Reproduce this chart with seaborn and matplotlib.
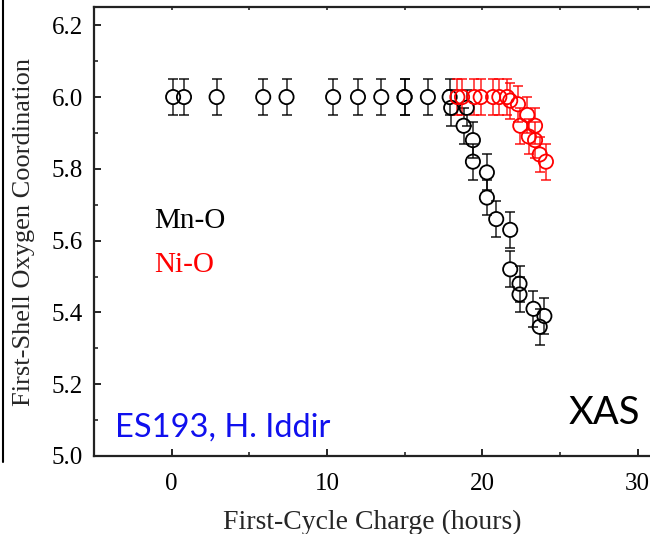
import matplotlib
matplotlib.use("Agg")
import matplotlib.pyplot as plt
from matplotlib.lines import Line2D
from matplotlib.ticker import MultipleLocator
import seaborn as sns
import pandas as pd
import numpy as np

# ---- data ----
mn_x = [0.1, 0.8, 2.9, 5.9, 7.4, 10.4, 12.0, 13.5, 15.0, 15.0, 16.5, 17.9,
        18.0, 19.0, 18.8, 19.4, 19.4, 20.3, 20.3, 20.9, 21.8, 21.8, 22.4, 22.4,
        23.3, 24.0, 23.7]
mn_y = [6.0, 6.0, 6.0, 6.0, 6.0, 6.0, 6.0, 6.0, 6.0, 6.0, 6.0, 6.0,
        5.97, 5.97, 5.92, 5.88, 5.82, 5.79, 5.72, 5.66, 5.63, 5.52, 5.48, 5.45,
        5.41, 5.39, 5.36]
mn_err = [0.05, 0.05, 0.05, 0.05, 0.05, 0.05, 0.05, 0.05, 0.05, 0.05, 0.05, 0.05,
          0.05, 0.05, 0.05, 0.05, 0.05, 0.05, 0.05, 0.05, 0.05, 0.05, 0.05, 0.05,
          0.05, 0.05, 0.05]

ni_x = [18.4, 18.7, 19.5, 19.9, 20.7, 21.1, 21.6, 21.8, 22.3, 22.9, 22.45, 23.4,
        23.0, 23.4, 23.7, 24.1]
ni_y = [6.0, 6.0, 6.0, 6.0, 6.0, 6.0, 6.0, 5.99, 5.98, 5.95, 5.92, 5.92,
        5.89, 5.88, 5.84, 5.82]
ni_err = [0.05, 0.05, 0.05, 0.05, 0.05, 0.05, 0.05, 0.05, 0.05, 0.05, 0.05, 0.05,
          0.05, 0.05, 0.05, 0.05]

series_names = ["Mn-O", "Ni-O"]
series_colors = ["black", "red"]
x_ticks = [0, 10, 20, 30]
y_ticks = [5.0, 5.2, 5.4, 5.6, 5.8, 6.0, 6.2]

df = pd.concat([
    pd.DataFrame({"x": mn_x, "y": mn_y, "err": mn_err, "s": series_names[0]}),
    pd.DataFrame({"x": ni_x, "y": ni_y, "err": ni_err, "s": series_names[1]}),
])

sns.set_style("ticks")
plt.rcParams["font.family"] = ["Liberation Serif", "DejaVu Serif"]

fig = plt.figure(figsize=(6.5, 5.34), dpi=100)
W, H = 650, 534
ax = fig.add_axes([93.9 / W, 1 - 456 / H, (650 - 93.9) / W, (456 - 7.3) / H])

R = 0.0205  # marker radius in data units (stems start at marker edge)
for name, col in zip(series_names, series_colors):
    d = df[df["s"] == name]
    yv = d["y"].to_numpy()
    ev = d["err"].to_numpy()
    ax.vlines(d["x"], yv + R, yv + ev, color=col, lw=1.2, alpha=0.8, zorder=2)
    ax.vlines(d["x"], yv - ev, yv - R, color=col, lw=1.2, alpha=0.8, zorder=2)
    ax.errorbar(d["x"], d["y"], yerr=d["err"], fmt="none", ecolor=col,
                elinewidth=0, capsize=3.4, capthick=1.2, alpha=0.85, zorder=2)

sns.scatterplot(data=df, x="x", y="y", hue="s", palette=series_colors,
                hue_order=series_names, ax=ax, s=105, marker="o",
                linewidth=1.3, legend=False, zorder=3)
pts = ax.collections[-1]
edge = ["black"] * len(mn_x) + ["red"] * len(ni_x)
pts.set_edgecolors(edge)
pts.set_facecolors("none")

ax.set_xlim(-5, 30.8)
ax.set_ylim(5.0, 6.25)
ax.set_xticks(x_ticks)
ax.set_yticks(y_ticks)
ax.xaxis.set_minor_locator(MultipleLocator(5))
ax.yaxis.set_minor_locator(MultipleLocator(0.1))
ax.set_yticklabels([f"{v:.1f}" for v in y_ticks])
ax.tick_params(axis="both", which="major", direction="in", length=5, width=1.2,
               labelsize=18, colors="black")
ax.tick_params(axis="x", which="major", pad=12)
ax.tick_params(axis="y", which="major", pad=8)
ax.tick_params(axis="both", which="minor", direction="in", length=3, width=1.2)

for sp in ["left", "bottom", "top"]:
    ax.spines[sp].set_linewidth(1.6)
    ax.spines[sp].set_color("#222222")
ax.spines["right"].set_visible(False)

top = ax.secondary_xaxis("top")
top.set_xticks([0, 5, 10, 15, 20, 25, 30])
top.tick_params(direction="in", length=2.5, width=1.2, labeltop=False)
top.spines["top"].set_visible(False)

ax.set_xlabel("First-Cycle Charge (hours)", fontsize=20, labelpad=11)
ax.set_ylabel("First-Shell Oxygen Coordination", fontsize=19, labelpad=12)

ax.text(-1.12, 5.654, "Mn-O", fontsize=21, color="black", va="center", ha="left")
ax.text(-1.12, 5.531, "Ni-O", fontsize=21, color="red", va="center", ha="left")
ax.text(-3.65, 5.08, "ES193, H. Iddir", fontsize=23.5, color="#1010ee",
        va="center", ha="left", family=["Lato", "DejaVu Sans"])
ax.text(30.15, 5.12, "XAS", fontsize=27.5, color="black",
        va="center", ha="right", family=["Lato", "DejaVu Sans"])

fig.add_artist(Line2D([2.5 / W, 2.5 / W], [1 - 462 / H, 1], transform=fig.transFigure,
                      color="black", lw=1.5))

fig.savefig("out.png", dpi=100)
